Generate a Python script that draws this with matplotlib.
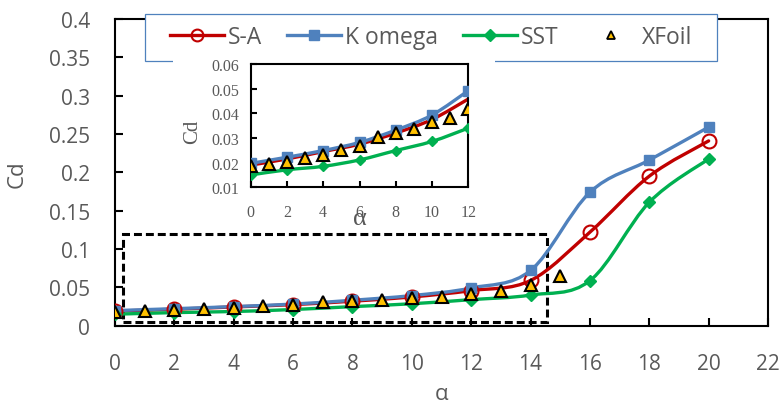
import matplotlib
matplotlib.use('Agg')
import matplotlib.pyplot as plt
import numpy as np
from matplotlib.path import Path
from matplotlib.patches import PathPatch, Rectangle
from matplotlib.lines import Line2D
from matplotlib.ticker import FuncFormatter

plt.rcParams['font.family'] = ['Open Sans', 'DejaVu Sans']

# data
alpha = [0, 2, 4, 6, 8, 10, 12, 14, 16, 18, 20]
cd_sa = [0.019, 0.0215, 0.0245, 0.0275, 0.032, 0.0375, 0.0458, 0.059, 0.122, 0.195, 0.241]
cd_kw = [0.0197, 0.0222, 0.0249, 0.0282, 0.0332, 0.0393, 0.0492, 0.072, 0.174, 0.216, 0.259]
cd_sst = [0.015, 0.0171, 0.0185, 0.0211, 0.0249, 0.0286, 0.034, 0.040, 0.0587, 0.161, 0.2175]
alpha_xf = [0, 1, 2, 3, 4, 5, 6, 7, 8, 9, 10, 11, 12, 13, 14, 15]
cd_xf = [0.0185, 0.0195, 0.0204, 0.0219, 0.0231, 0.0251, 0.0269, 0.0303, 0.0319, 0.0336,
         0.0366, 0.038, 0.0418, 0.0457, 0.053, 0.0644]
n_in = 7  # inset shows alpha 0..12

RED = '#C00000'
BLUE = '#4F81BD'
GREEN = '#00B050'
GOLD = '#FFC000'
GRAY = '#595959'
W, H = 782, 410


def smooth(x, y):
    # excel style smoothed line: bezier segments through the points
    pts = np.column_stack([x, y]).astype(float)
    p = np.vstack([pts[0], pts, pts[-1]])
    verts = [pts[0]]
    codes = [Path.MOVETO]
    for i in range(1, len(p) - 2):
        c1 = p[i] + (p[i + 1] - p[i - 1]) / 6
        c2 = p[i + 1] - (p[i + 2] - p[i]) / 6
        verts += [c1, c2, p[i + 1]]
        codes += [Path.CURVE4] * 3
    return Path(verts, codes)


def add_curve(ax, x, y, color, lw):
    ax.add_patch(PathPatch(smooth(x, y), fc='none', ec=color, lw=lw,
                           capstyle='round', joinstyle='round', zorder=2))


def box(l, t, r, b):
    return [l / W, 1 - b / H, (r - l) / W, (b - t) / H]


fig = plt.figure(figsize=(W / 100, H / 100), dpi=100)

# ---- main chart
ax = fig.add_axes(box(115, 20, 768, 326.7))
add_curve(ax, alpha, cd_sa, RED, 2.4)
add_curve(ax, alpha, cd_kw, BLUE, 2.4)
add_curve(ax, alpha, cd_sst, GREEN, 2.4)
ax.plot(alpha, cd_sa, ls='none', marker='o', ms=10, mfc='none', mec=RED, mew=1.5, zorder=3)
ax.plot(alpha, cd_kw, ls='none', marker='s', ms=7, mfc=BLUE, mec=BLUE, zorder=3)
ax.plot(alpha, cd_sst, ls='none', marker='D', ms=6, mfc=GREEN, mec=GREEN, zorder=3)
ax.plot(alpha_xf, cd_xf, ls='none', marker='^', ms=9, mfc=GOLD, mec='black', mew=1.5, zorder=4)

ax.add_patch(Rectangle((0.27, 0.0045), 14.55 - 0.27, 0.1196 - 0.0045, fill=False,
                       ec='black', lw=2.2, ls=(0, (2.6, 1.3)), zorder=1.5))

ax.set_xlim(0, 22)
ax.set_ylim(0, 0.4)
ax.set_xticks(range(0, 23, 2))
ax.set_yticks(np.arange(0, 0.401, 0.05))
ax.yaxis.set_major_formatter(FuncFormatter(lambda v, p: '%g' % round(v, 3)))
ax.tick_params(direction='in', length=5.8, width=1.5, labelsize=15, labelcolor=GRAY)
ax.tick_params(axis='y', pad=18)
ax.tick_params(axis='x', pad=20)
for s in ax.spines.values():
    s.set_linewidth(1.5)

fig.text(17 / W, 1 - 174 / H, 'Cd', rotation=90, ha='center', va='center', fontsize=16, color=GRAY)
fig.text(441 / W, 1 - 395 / H, 'α', ha='center', va='center', fontsize=16, color=GRAY)

# legend frame drawn by hand so it keeps the reference size
ax.add_patch(Rectangle((145 / W, 1 - 62 / H), 572 / W, 47 / H, transform=fig.transFigure,
                       fc='white', ec=BLUE, lw=0.9, clip_on=False, zorder=4.5))
handles = [
    Line2D([], [], color=RED, lw=2.4, marker='o', ms=8.5, mfc='none', mec=RED, mew=1.5),
    Line2D([], [], color=BLUE, lw=2.4, marker='s', ms=7, mfc=BLUE, mec=BLUE),
    Line2D([], [], color=GREEN, lw=2.4, marker='D', ms=6, mfc=GREEN, mec=GREEN),
    Line2D([], [], ls='none', marker='^', ms=6, mfc=GOLD, mec='black', mew=1.3),
]
leg = ax.legend(handles, ['S-A', 'K omega', 'SST', 'XFoil'], loc='center',
                bbox_to_anchor=(431 / W, 1 - 38.5 / H), bbox_transform=fig.transFigure,
                ncol=4, fontsize=16.5, handlelength=2.36, handletextpad=0.17,
                columnspacing=1.1, borderpad=0.5, frameon=False)
for t in leg.get_texts():
    t.set_color(GRAY)

# ---- white area behind the inset (hides part of legend frame)
bg = fig.add_axes(box(173, 57, 495, 232))
bg.set_xticks([])
bg.set_yticks([])
for s in bg.spines.values():
    s.set_visible(False)

# ---- inset
ins = fig.add_axes(box(250.7, 65, 468.3, 188.3))
add_curve(ins, alpha[:n_in], cd_sa[:n_in], RED, 2.4)
add_curve(ins, alpha[:n_in], cd_kw[:n_in], BLUE, 2.4)
add_curve(ins, alpha[:n_in], cd_sst[:n_in], GREEN, 2.4)
ins.plot(alpha[:n_in], cd_kw[:n_in], ls='none', marker='s', ms=7, mfc=BLUE, mec=BLUE, zorder=3)
ins.plot(alpha[:n_in], cd_sst[:n_in], ls='none', marker='D', ms=5.5, mfc=GREEN, mec=GREEN, zorder=3)
ins.plot(alpha_xf[:13], cd_xf[:13], ls='none', marker='^', ms=8, mfc=GOLD, mec='black', mew=1.5, zorder=4)
ins.set_xlim(0, 12)
ins.set_ylim(0.01, 0.06)
ins.set_xticks(range(0, 13, 2))
ins.set_yticks(np.arange(0.01, 0.0601, 0.01))
ins.yaxis.set_major_formatter(FuncFormatter(lambda v, p: '%g' % round(v, 3)))
ins.tick_params(direction='in', length=4.3, width=1.5, labelsize=11.5, labelcolor=GRAY)
ins.tick_params(axis='y', pad=8)
ins.tick_params(axis='x', pad=12)
for lab in ins.get_xticklabels() + ins.get_yticklabels():
    lab.set_family('Liberation Serif')
for s in ins.spines.values():
    s.set_linewidth(1.5)
fig.text(192.7 / W, 1 - 131.7 / H, 'Cd', rotation=90, ha='center', va='center',
         fontsize=15, color=GRAY, family='Liberation Serif')
fig.text(360 / W, 1 - 219 / H, 'α', ha='center', va='center',
         fontsize=19, color=GRAY, family='Liberation Serif')

fig.savefig('out.png', dpi=100)
